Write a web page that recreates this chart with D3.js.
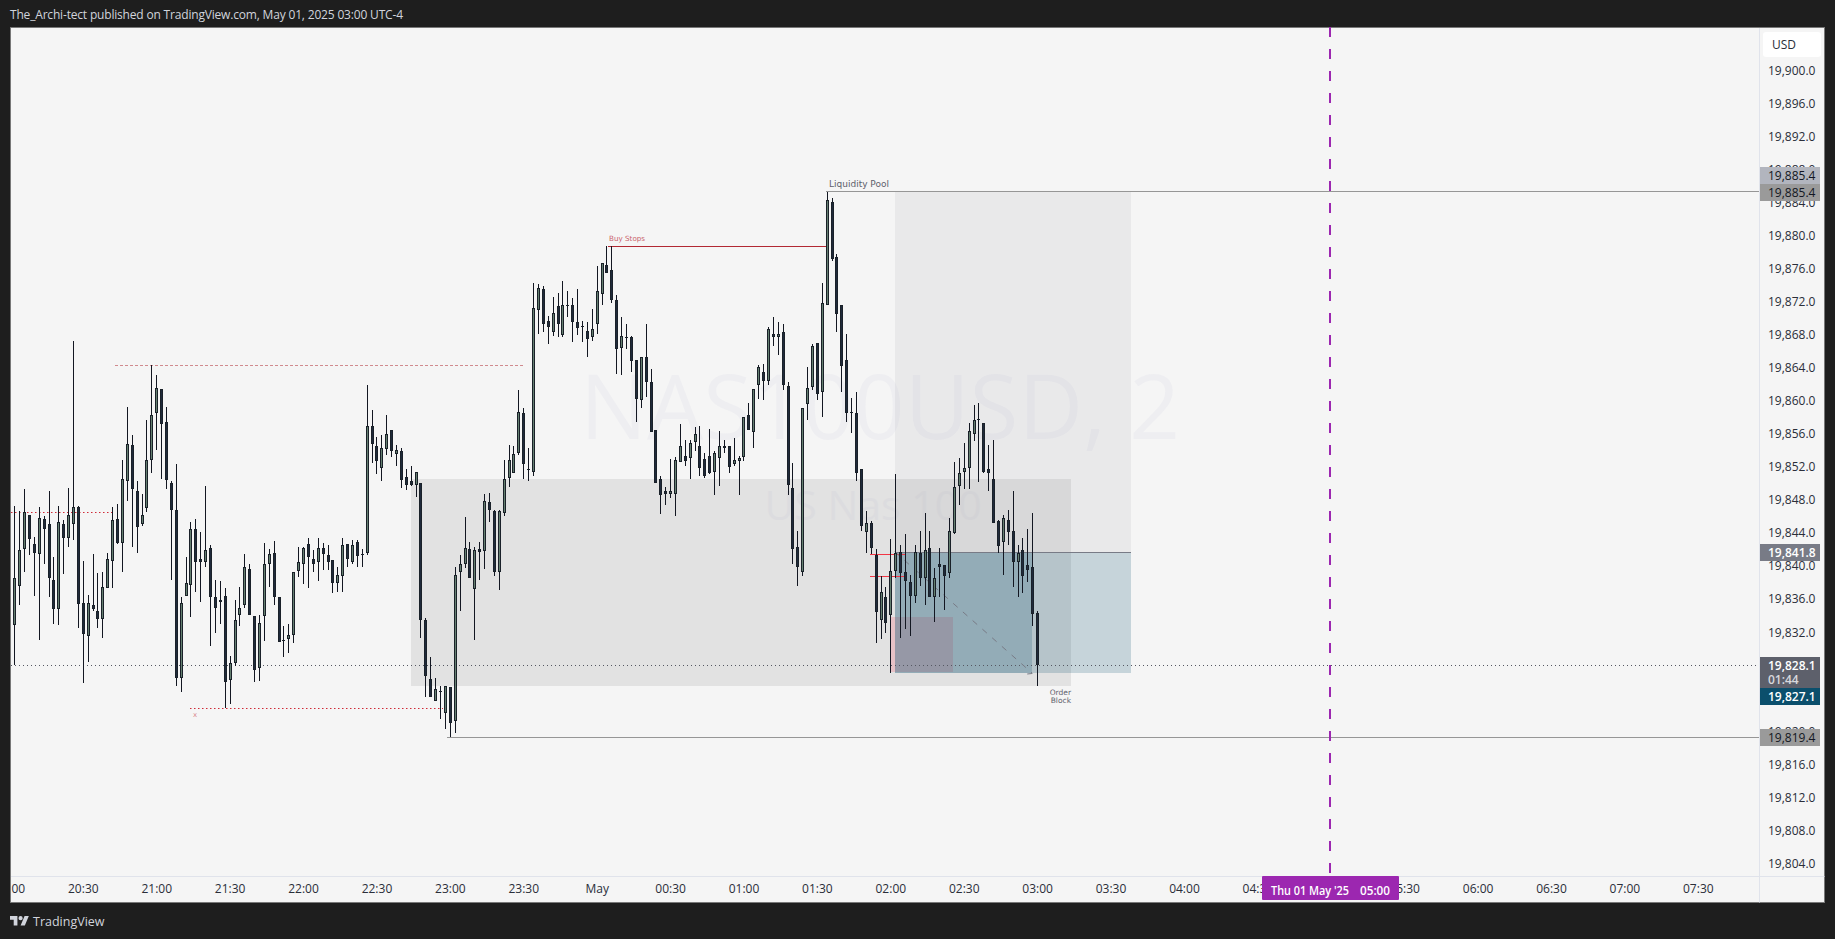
<!DOCTYPE html>
<html><head><meta charset="utf-8">
<style>html,body{margin:0;padding:0;background:#1e1e1e;overflow:hidden}svg{display:block}</style>
<script src="https://cdn.jsdelivr.net/npm/d3@7/dist/d3.min.js"></script></head><body>
<script>
// candles: 2-minute bars, first bar opens 20:00
const barMinutes = 2;
const highs=[19833.5,
19847.3,19846.7,19849.4,19846.3,19843.6,19847.2,19846.1,19849.2,19841.2,19847.3,
19845.6,19849.5,19867.3,19847.3,19840.7,19836.6,19841.5,19839.2,19839.4,19841.7,
19847.2,19847.6,19852.9,19859.3,19855.9,19850.4,19848.8,19857.7,19864.4,19863.2,
19861.5,19859.3,19850.4,19852.4,19836.3,19841.2,19845.4,19845.7,19844.2,19849.8,
19842.6,19838.4,19838.2,19837.4,19829.2,19836.0,19837.5,19841.5,19840.3,19834.0,
19834.2,19842.8,19842.1,19843.1,19836.3,19832.8,19833.0,19839.3,19842.4,19842.4,
19843.4,19842.0,19843.4,19842.8,19842.6,19840.8,19840.0,19843.4,19842.7,19843.2,
19843.2,19842.1,19862.0,19859.0,19855.7,19855.9,19858.4,19856.5,19854.7,19854.3,
19851.8,19852.2,19851.5,19850.1,19833.8,19829.0,19826.5,19825.6,19825.5,19825.4,
19840.0,19841.4,19846.0,19843.0,19842.4,19843.0,19848.8,19848.9,19846.9,19846.9,
19852.9,19854.7,19854.6,19861.4,19859.2,19854.4,19874.3,19874.2,19874.0,19870.3,
19872.6,19873.1,19874.6,19873.4,19872.5,19873.6,19869.7,19869.6,19871.2,19876.4,
19876.7,19878.8,19878.8,19872.8,19870.2,19869.3,19867.9,19865.0,19865.4,19869.4,
19863.9,19856.5,19850.9,19849.6,19853.0,19853.2,19857.3,19855.3,19855.3,19856.9,
19857.0,19853.7,19856.7,19854.0,19856.4,19855.3,19854.6,19855.6,19853.4,19858.1,
19859.8,19861.5,19864.4,19864.5,19869.0,19870.2,19869.6,19869.3,19862.3,19852.5,
19844.3,19859.2,19864.2,19866.9,19867.1,19874.3,19885.3,19884.6,19877.8,19871.7,
19868.1,19860.4,19861.1,19851.8,19846.7,19845.5,19842.1,19838.9,19837.5,19843.3,
19851.2,19842.6,19843.9,19839.0,19842.6,19844.3,19846.5,19844.3,19839.8,19842.3,
19840.2,19845.9,19852.7,19853.1,19854.9,19857.4,19859.6,19859.8,19857.4,19854.7,
19855.3,19845.6,19846.3,19846.8,19849.1,19842.6,19843.4,19844.5,19846.5,19834.6];
const lows=[19829.0,
19828.1,19835.4,19839.4,19841.4,19836.4,19831.1,19840.3,19836.3,19833.1,19832.9,
19839.1,19842.4,19843.2,19832.6,19825.9,19828.4,19834.6,19832.6,19831.4,19837.4,
19837.4,19842.7,19839.4,19847.9,19842.4,19841.7,19844.9,19846.6,19851.3,19854.1,
19850.6,19849.4,19838.4,19825.5,19824.8,19836.5,19833.9,19836.9,19835.7,19840.0,
19830.4,19832.0,19833.0,19822.9,19823.4,19828.0,19832.8,19835.0,19834.1,19826.0,
19826.2,19831.0,19837.5,19835.4,19830.9,19829.1,19829.6,19830.8,19838.7,19837.9,
19837.4,19839.4,19838.2,19839.6,19839.6,19836.8,19836.9,19836.9,19840.0,19840.3,
19840.0,19840.0,19841.4,19852.5,19851.2,19850.4,19853.5,19853.2,19852.2,19849.5,
19849.3,19849.8,19848.4,19831.4,19824.2,19824.2,19823.7,19821.6,19820.4,19819.4,
19819.9,19834.6,19839.8,19838.6,19831.1,19838.4,19839.7,19845.4,19838.8,19837.2,
19846.1,19849.6,19851.3,19853.5,19850.6,19850.4,19851.0,19868.2,19868.4,19866.9,
19867.9,19867.8,19867.8,19870.2,19867.2,19868.0,19867.2,19865.3,19867.3,19868.2,
19871.7,19875.5,19871.9,19863.3,19863.2,19866.3,19863.6,19857.5,19859.2,19860.5,
19856.3,19850.1,19846.4,19847.4,19848.3,19846.1,19852.7,19852.2,19850.6,19854.0,
19851.0,19850.7,19851.2,19848.7,19849.8,19853.8,19851.3,19852.2,19848.7,19852.8,
19856.5,19854.4,19860.3,19860.2,19862.0,19866.7,19865.6,19861.4,19848.6,19840.3,
19837.6,19838.8,19857.7,19861.4,19860.2,19858.1,19871.6,19877.0,19868.4,19861.1,
19857.5,19856.2,19850.4,19844.3,19841.6,19841.5,19830.8,19831.2,19832.0,19827.1,
19838.6,19831.4,19832.4,19831.6,19835.6,19837.7,19835.4,19836.3,19833.3,19836.3,
19834.7,19838.6,19843.9,19847.4,19849.4,19849.4,19855.2,19850.2,19851.3,19849.2,
19845.3,19841.7,19839.0,19842.6,19837.5,19836.3,19836.8,19838.1,19832.8,19825.5];
const opens=[19832.6,
19832.9,19837.7,19842.1,19846.3,19842.7,19841.5,19845.7,19845.1,19838.4,19834.9,
19845.1,19843.5,19845.1,19847.2,19835.6,19831.6,19835.3,19834.6,19833.6,19837.4,
19840.7,19845.7,19842.9,19850.3,19854.7,19849.1,19845.1,19847.1,19852.9,19858.6,
19861.5,19857.5,19850.1,19846.9,19826.5,19836.5,19837.8,19844.6,19840.9,19840.5,
19842.3,19836.3,19835.7,19836.5,19826.3,19828.3,19834.1,19835.3,19839.7,19834.0,
19827.7,19834.0,19840.3,19841.7,19836.3,19831.1,19831.2,19831.7,19839.5,19840.3,
19842.7,19840.9,19840.5,19842.3,19841.4,19840.8,19838.0,19838.9,19842.7,19840.5,
19843.0,19841.5,19841.7,19857.0,19854.6,19851.9,19854.2,19856.5,19853.6,19854.0,
19850.8,19850.3,19849.9,19850.1,19833.5,19826.4,19823.7,19824.9,19822.3,19825.4,
19821.3,19839.3,19840.3,19842.1,19837.3,19842.1,19841.9,19847.8,19846.7,19839.3,
19846.5,19850.7,19851.3,19853.7,19858.6,19851.8,19851.5,19871.1,19873.6,19869.7,
19868.4,19871.5,19868.0,19871.7,19871.6,19869.6,19869.1,19868.5,19867.8,19869.3,
19873.0,19876.5,19875.9,19872.3,19866.5,19867.8,19867.8,19865.0,19860.1,19865.3,
19862.3,19856.5,19850.6,19849.1,19848.8,19848.8,19852.7,19853.4,19853.1,19855.1,
19854.6,19853.0,19853.4,19851.5,19853.1,19854.6,19854.6,19852.4,19852.8,19853.3,
19858.3,19856.3,19862.0,19863.5,19862.5,19868.1,19867.8,19868.4,19861.9,19849.5,
19842.4,19839.3,19859.7,19861.7,19867.1,19861.1,19871.6,19884.1,19877.5,19871.6,
19865.0,19858.7,19858.6,19851.8,19844.2,19845.3,19841.4,19833.5,19836.3,19834.1,
19839.5,19841.8,19839.3,19838.1,19836.5,19841.7,19838.6,19842.3,19836.3,19840.3,
19840.2,19839.2,19844.1,19849.7,19851.5,19851.9,19856.1,19857.8,19857.4,19851.8,
19850.6,19845.5,19843.0,19845.6,19844.3,19840.5,19842.0,19840.2,19839.9,19834.4];
const closes=[19830.0,
19838.6,19842.0,19846.6,19843.3,19841.7,19845.9,19844.5,19838.6,19834.9,19845.4,
19843.5,19846.3,19847.2,19835.5,19831.8,19835.6,19834.9,19833.7,19837.5,19840.9,
19845.6,19842.9,19850.6,19854.8,19849.4,19844.8,19846.3,19852.9,19858.3,19861.6,
19857.3,19850.5,19846.9,19826.5,19835.6,19838.0,19844.5,19840.6,19840.6,19842.0,
19836.3,19835.0,19835.9,19826.0,19828.3,19833.5,19835.0,19839.9,19834.1,19827.5,
19833.2,19840.3,19841.5,19836.3,19830.9,19831.0,19831.7,19839.3,19840.5,19842.2,
19841.1,19840.3,19842.2,19841.5,19840.5,19838.0,19839.0,19842.6,19840.9,19842.6,
19841.3,19841.4,19857.0,19854.8,19852.8,19854.3,19856.1,19854.0,19854.1,19850.5,
19849.9,19849.9,19851.5,19833.5,19826.7,19824.2,19825.2,19824.8,19825.5,19821.1,
19839.0,19840.3,19842.3,19838.6,19842.0,19841.8,19847.9,19846.9,19839.3,19846.7,
19850.6,19852.9,19853.6,19858.7,19852.4,19851.7,19871.3,19873.7,19869.3,19869.0,
19870.7,19869.3,19871.7,19871.5,19869.6,19868.9,19869.0,19867.5,19868.8,19873.3,
19876.7,19875.5,19872.3,19866.3,19867.9,19867.7,19864.9,19860.3,19865.3,19862.3,
19856.3,19850.1,19848.7,19848.8,19849.1,19852.9,19854.6,19852.8,19854.9,19856.1,
19851.9,19850.9,19851.3,19853.7,19854.6,19854.3,19852.1,19852.9,19853.1,19858.1,
19856.5,19861.5,19864.2,19862.5,19868.7,19867.8,19868.1,19862.0,19849.9,19842.1,
19839.9,19859.2,19861.6,19866.7,19860.9,19871.9,19884.3,19877.2,19870.6,19864.3,
19858.6,19858.6,19851.3,19844.9,19845.3,19842.3,19834.5,19836.9,19833.2,19839.5,
19841.7,19839.2,19838.3,19836.5,19841.8,19838.6,19842.0,19836.3,19838.6,19839.9,
19838.9,19844.3,19849.6,19851.3,19851.9,19856.4,19857.7,19857.9,19851.5,19851.3,
19845.3,19842.5,19845.9,19844.2,19840.5,19841.7,19838.9,19839.6,19834.3,19828.1];

const priceTicks=[19900,19896,19892,19888,19884,19880,19876,19872,19868,19864,19860,19856,19852,19848,19844,19840,19836,19832,19828,19824,19820,19816,19812,19808,19804];
const timeTickMinutes=[0,30,60,90,120,150,180,210,240,270,300,330,360,390,420,450,480,510,540,570,600,630,660,690];
const timeTickLabels=["20:00","20:30","21:00","21:30","22:00","22:30","23:00","23:30","May","00:30","01:00","01:30","02:00","02:30","03:00","03:30","04:00","04:30","05:00","05:30","06:00","06:30","07:00","07:30"];

const W=1835,H=939;
const plot={l:11,r:1759,t:28,b:876};
const frame={l:10.5,r:1824.5,t:27.5,b:902.5};
const x=d3.scaleLinear().domain([0,690]).range([9.4,1697.8]);
const y=d3.scaleLinear().domain([19900,19804]).range([70.7,864.1]);
const px=v=>Math.round(x(v)), py=v=>Math.round(y(v));

const C={bg:"#1e1e1e",paper:"#f5f5f5",sep:"#e0e3eb",wick:"#131722",upFill:"#647f70",dnFill:"#1f2a3b",border:"#1a2129",grey:"#969696",axis:"#2a2e39"};
const svg=d3.select("body").append("svg").attr("width",W).attr("height",H);
const defs=svg.append("defs");
defs.append("clipPath").attr("id","plotClip").append("rect").attr("x",plot.l).attr("y",plot.t).attr("width",plot.r-plot.l).attr("height",plot.b-plot.t);
defs.append("clipPath").attr("id","timeClip").append("rect").attr("x",plot.l).attr("y",plot.b).attr("width",plot.r-plot.l).attr("height",frame.b-plot.b);

svg.append("rect").attr("width",W).attr("height",H).attr("fill",C.bg);
svg.append("rect").attr("x",frame.l).attr("y",frame.t).attr("width",frame.r-frame.l).attr("height",frame.b-frame.t).attr("fill",C.paper).attr("stroke","#787878");

const sans="'Open Sans',sans-serif";
svg.append("text").attr("x",10).attr("y",19).attr("fill","#d1d4dc").attr("font-family",sans).attr("font-size",12).attr("textLength",393).text("The_Archi-tect published on TradingView.com, May 01, 2025 03:00 UTC-4");

// TradingView logo + wordmark
svg.append("path").attr("transform","translate(10,913.9) scale(.53)").attr("fill","#d1d4dc")
  .attr("d","M14 22H7V11H0V4h14v18zM28 22h-8l7.5-18h8L28 22zM24 8a4 4 0 1 1-8 0 4 4 0 0 1 8 0z");
svg.append("text").attr("x",33).attr("y",926).attr("fill","#d1d4dc").attr("font-family",sans).attr("font-size",12.5).text("TradingView");

const g=svg.append("g").attr("clip-path","url(#plotClip)");
// watermark
g.append("text").attr("x",880).attr("y",439).attr("text-anchor","middle").attr("fill","#eeeef1").attr("font-family",sans).attr("font-size",89).text("NAS100USD, 2");
g.append("text").attr("x",873).attr("y",520).attr("text-anchor","middle").attr("fill","#eeeef1").attr("font-family",sans).attr("font-size",41).text("US Nas 100");

const box=(m0,m1,p0,p1,fill)=>g.append("rect").attr("x",px(m0)).attr("width",px(m1)-px(m0)).attr("y",py(p0)).attr("height",py(p1)-py(p0)).attr("fill",fill).attr("shape-rendering","crispEdges");
const hline=(m0,m1,p,stroke,w,dash)=>g.append("line").attr("x1",m0==null?plot.l:px(m0)).attr("x2",m1==null?plot.r:px(m1)).attr("y1",py(p)+.5).attr("y2",py(p)+.5).attr("stroke",stroke).attr("stroke-width",w).attr("stroke-dasharray",dash||null);

const entry=19841.8,target=19885.4,stop=19827.1,lastClose=19828.1,lowLine=19819.4;
const posL=361.8,posR=458.4,lastBar=418;
box(164,434,19850.6,19825.55,"rgba(120,120,120,.15)");     // order-block zone
box(360,385.6,19833.9,19827.2,"rgba(255,54,80,.19)");
box(posL,posR,target,entry,"rgba(120,120,128,.09)");
box(posL,posR,entry,stop,"rgba(11,79,108,.2)");
box(posL,lastBar,entry,stop,"rgba(11,79,108,.2)");

hline(posL,posR,entry,"#787b86",1);
hline(333.6,null,target,C.grey,1);
hline(179,null,lowLine,C.grey,1);
hline(244.5,334,19878.75,"#b22833",1);
hline(null,43.3,19846.57,"#cf2a37",1,"1.5 2.5");
hline(43.3,209.7,19864.35,"#d08a8e",1,"3 2");
hline(73.8,177,19822.85,"#cf2a37",1,"1.5 2.5");
hline(351.8,366,19841.5,"#f23645",1);
hline(351.8,366,19838.9,"#f23645",1);
hline(null,null,lastClose,"#555862",1,"1 3");
g.append("line").attr("x1",x(posL)).attr("y1",y(entry)).attr("x2",x(lastBar)).attr("y2",y(stop)).attr("stroke","#787b86").attr("stroke-width",1).attr("stroke-dasharray","6 7");
g.append("line").attr("x1",x(lastBar)-5).attr("y1",y(stop)+.8).attr("x2",x(lastBar)).attr("y2",y(stop)+.3).attr("stroke","#787b86");

// candles
const bars=d3.range(opens.length).map(i=>({t:i*barMinutes,o:opens[i],h:highs[i],l:lows[i],c:closes[i]}));
const cg=g.append("g").attr("shape-rendering","crispEdges");
const sel=cg.selectAll("g").data(bars).join("g");
sel.append("rect").attr("x",d=>px(d.t)).attr("width",1).attr("y",d=>py(d.h)).attr("height",d=>Math.max(1,py(d.l)-py(d.h))).attr("fill",C.wick);
const bt=d=>py(Math.max(d.o,d.c)), bb=d=>Math.max(py(Math.min(d.o,d.c)),bt(d)+1);
sel.append("rect").attr("x",d=>px(d.t)-1).attr("width",3).attr("y",bt).attr("height",d=>bb(d)-bt(d)).attr("fill",C.border);
sel.filter(d=>bb(d)-bt(d)>2).append("rect").attr("x",d=>px(d.t)).attr("width",1).attr("y",d=>bt(d)+1).attr("height",d=>bb(d)-bt(d)-2).attr("fill",d=>d.c>=d.o?C.upFill:C.dnFill);

// drawing labels
const note=(xp,yp,txt,size,fill,anchor)=>g.append("text").attr("x",xp).attr("y",yp).attr("font-family","'DejaVu Sans',sans-serif").attr("font-size",size).attr("fill",fill).attr("text-anchor",anchor||"start").text(txt);
note(px(333.6)+3,187,"Liquidity Pool",9,"#5d606b");
note(609,240.5,"Buy Stops",7.2,"#c9636b");
note(195,717,"x",7,"#d98b90","middle");
note(1071,694.5,"Order",7.5,"#5d606b","end");
note(1071,702.5,"Block",7.5,"#5d606b","end");

// 05:00 marker
svg.append("line").attr("x1",1330).attr("x2",1330).attr("y1",plot.t-1).attr("y2",plot.b).attr("stroke","#9c27b0").attr("stroke-width",2).attr("stroke-dasharray","10 12");

// separators
svg.append("line").attr("x1",plot.r+.5).attr("x2",plot.r+.5).attr("y1",plot.t).attr("y2",frame.b).attr("stroke",C.sep);
svg.append("line").attr("x1",plot.l).attr("x2",frame.r).attr("y1",plot.b+.5).attr("y2",plot.b+.5).attr("stroke",C.sep);

// time axis
const tAxis=svg.append("g").attr("clip-path","url(#timeClip)").append("g").attr("transform",`translate(0,${plot.b})`)
 .call(d3.axisBottom(x).tickValues(timeTickMinutes).tickSize(0).tickPadding(8).tickFormat((d,i)=>timeTickLabels[i]));
tAxis.select(".domain").remove();
tAxis.selectAll("text").attr("font-family",sans).attr("font-size",12).attr("fill",C.axis);

// price axis
const pAxis=svg.append("g").attr("transform",`translate(1768,-0.5)`)
 .call(d3.axisRight(y).tickValues(priceTicks).tickSize(0).tickPadding(0).tickFormat(d3.format(",.1f")));
pAxis.select(".domain").remove();
pAxis.selectAll("text").attr("font-family",sans).attr("font-size",12).attr("fill",C.axis);

svg.append("rect").attr("x",1763).attr("y",32).attr("width",58).attr("height",25).attr("rx",3).attr("fill","#fff");
svg.append("text").attr("x",1772).attr("y",49).attr("font-family",sans).attr("font-size",12).attr("fill",C.axis).text("USD");

// price labels
const priceLabels=[
 {v:target,top:167,fill:"#b2b5be",txt:"#131722",w:400},
 {v:target,top:184,fill:"#9a9a9a",txt:"#131722",w:400},
 {v:entry,top:544,fill:"#787b86",txt:"#fff",w:600},
 {v:lastClose,top:657,h:31,fill:"#5d606b",txt:"#fff",w:600},
 {v:stop,top:688,fill:"#0b4f6c",txt:"#fff",w:600},
 {v:lowLine,top:729,fill:"#9a9a9a",txt:"#131722",w:400}];
const fmt=d3.format(",.1f");
priceLabels.forEach(p=>{
 svg.append("rect").attr("x",1760).attr("y",p.top).attr("width",60).attr("height",p.h||17).attr("fill",p.fill);
 svg.append("text").attr("x",1768).attr("y",p.top+13).attr("font-family",sans).attr("font-size",12).attr("font-weight",p.w).attr("fill",p.txt).text(fmt(p.v));
});
svg.append("text").attr("x",1768).attr("y",684).attr("font-family",sans).attr("font-size",12).attr("font-weight",600).attr("fill","#d8d9dd").text("01:44");

// date label on the time axis
svg.append("rect").attr("x",1262).attr("y",876).attr("width",137).attr("height",24).attr("rx",1).attr("fill","#9c27b0");
svg.append("text").attr("x",1271).attr("y",895).attr("font-family",sans).attr("font-size",12).attr("font-weight",600).attr("fill","#fff").attr("textLength",78).attr("lengthAdjust","spacingAndGlyphs").text("Thu 01 May '25");
svg.append("text").attr("x",1360).attr("y",895).attr("font-family",sans).attr("font-size",12).attr("font-weight",600).attr("fill","#fff").attr("textLength",30).attr("lengthAdjust","spacingAndGlyphs").text("05:00");
</script></body></html>
